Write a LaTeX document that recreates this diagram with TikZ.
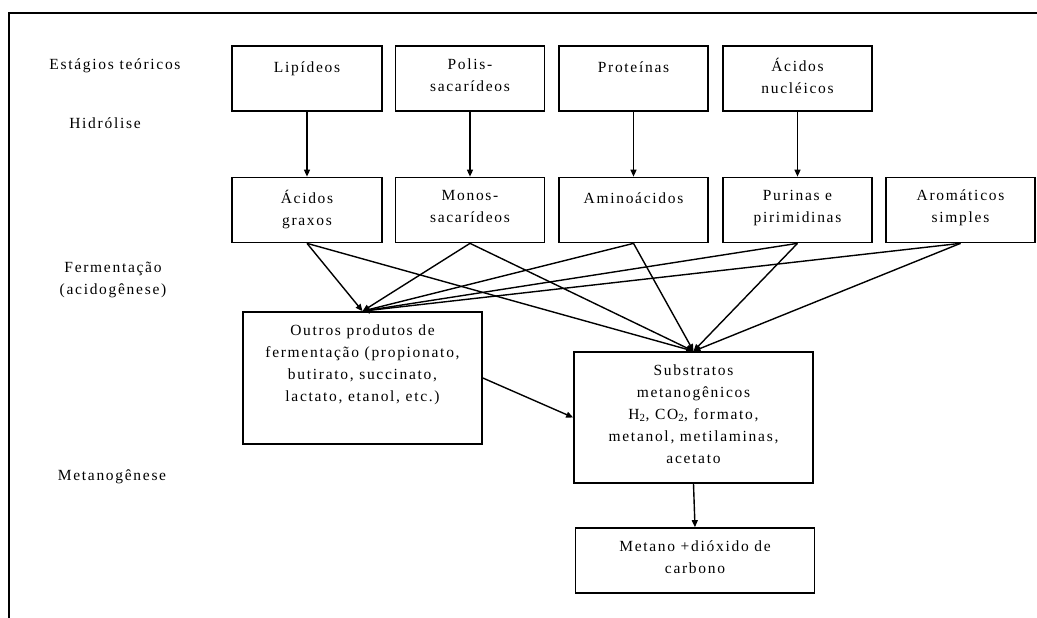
\documentclass[tikz,border=0pt]{standalone}
\usepackage{fontspec}
\setmainfont{Liberation Serif}[LetterSpace=11]
\usetikzlibrary{arrows.meta}
\begin{document}
\begin{tikzpicture}[x=1pt,y=-1pt,
  box/.style={draw, line width=1.7pt, inner sep=0pt},
  top/.style={box, minimum width=149pt, minimum height=65pt},
  big/.style={box, minimum width=239pt},
  txt/.style={anchor=north, inner sep=0pt, align=center,
    font=\fontsize{15.5}{22}\selectfont,
    execute at begin node={\rule{0pt}{14pt}}},
  arr/.style={line width=1.4pt, -{Triangle[length=7pt,width=6pt]}},
  frame/.style={line width=1.7pt}
]
\useasboundingbox (0,0) rectangle (1037,618);
\draw[frame] (9,618) -- (9,13) -- (1037,13);

% stage labels
\node[txt] (est) at (115,55) {Estágios teóricos};
\node[txt] (hid) at (105,114) {Hidrólise};
\node[txt] (fer) at (113,262) {Fermentação\\(acidogênese)};
\node[txt] (met) at (112,466) {Metanogênese};

% row 1
\node[top, minimum width=150pt] (lip) at (307,78.5) {};
\node[top] (pol) at (470,78.5) {};
\node[top] (pro) at (633.5,78.5) {};
\node[top] (acn) at (797.5,78.5) {};
\node[txt] (lipT) at ([yshift=-13pt]lip.north) {Lipídeos};
\node[txt] (polT) at ([yshift=-13pt]pol.north) {Polis-\\sacarídeos};
\node[txt] (proT) at ([yshift=-13pt]pro.north) {Proteínas};
\node[txt] (acnT) at ([yshift=-13pt]acn.north) {Ácidos\\nucléicos};

% row 2
\node[top, minimum width=150pt] (agr) at (307,210) {};
\node[top] (mon) at (470,210) {};
\node[top] (ami) at (633.5,210) {};
\node[top] (pur) at (797.5,210) {};
\node[top] (aro) at (960.5,210) {};
\node[txt] (agrT) at ([yshift=-13pt]agr.north) {Ácidos\\graxos};
\node[txt] (monT) at ([yshift=-13pt]mon.north) {Monos-\\sacarídeos};
\node[txt] (amiT) at ([yshift=-13pt]ami.north) {Aminoácidos};
\node[txt] (purT) at ([yshift=-13pt]pur.north) {Purinas e\\pirimidinas};
\node[txt] (aroT) at ([yshift=-13pt]aro.north) {Aromáticos\\simples};

% lower boxes
\node[big, minimum height=132pt] (out) at (362.5,378) {};
\node[big, minimum height=131pt] (sub) at (693.5,417.5) {};
\node[big, minimum height=65pt] (mtn) at (695,560.5) {};
\node[txt] (outT) at ([yshift=-13pt]out.north) {Outros produtos de\\fermentação (propionato,\\butirato, succinato,\\lactato, etanol, etc.)};
\node[txt] (subT) at ([yshift=-13pt]sub.north) {Substratos\\metanogênicos\\H\textsubscript{2}, CO\textsubscript{2}, formato,\\metanol, metilaminas,\\acetato};
\node[txt] (mtnT) at ([yshift=-13pt]mtn.north) {Metano +dióxido de\\carbono};

% hydrolysis arrows
\draw[arr] (lip) -- (agr);
\draw[arr] (pol) -- (mon);
\draw[arr] (pro) -- (ami);
\draw[arr] (acn) -- (pur);

% fermentation arrows
\foreach \s in {agr,mon,ami,pur,aro}{
  \draw[arr] (\s.south) -- (out.north);
  \draw[arr] (\s.south) -- (sub.north);
}
\draw[arr] (out.east) -- (sub.west);
\draw[arr] (sub.south) -- (mtn.north);
\end{tikzpicture}
\end{document}
